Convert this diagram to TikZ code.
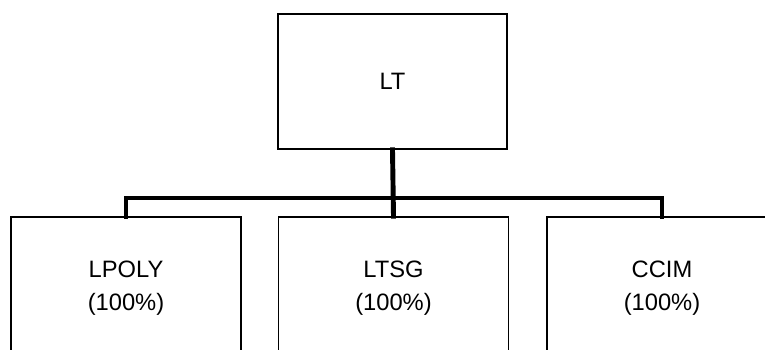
\documentclass[tikz,border=0pt]{standalone}
\usepackage{fontspec}
\setmainfont{Liberation Sans}
\usepackage{tikz}

\tikzset{
  entity/.style={draw, line width=0.9pt, align=center, inner sep=0pt,
    minimum width=4.6cm, font=\fontsize{13.5}{19}\selectfont},
  link/.style={line width=2.8pt, line cap=rect}
}

\begin{document}
\begin{tikzpicture}[x=0.02cm, y=-0.02cm]
    % ── Cadre de l'image ────────────────────────────────────────────────────
    \useasboundingbox (0,0) rectangle (765,349);
    \clip (0,0) rectangle (765,349);
    % ── Société mère ────────────────────────────────────────────────────────
    \node[entity, minimum width=4.58cm, minimum height=2.7cm] (lt) at (392.5,81.5) {LT};
    % ── Filiales (coupées en bas et à droite) ───────────────────────────────
    \node[entity, minimum height=2.84cm] (lpoly) at (126,288) {LPOLY\\(100\%)};
    \node[entity, minimum height=2.84cm] (ltsg) at (393.5,288) {LTSG\\(100\%)};
    \node[entity, minimum height=2.84cm] (ccim) at (662,288) {CCIM\\(100\%)};
    % ── Liaisons ────────────────────────────────────────────────────────────
    \coordinate (bus) at (393,198);
    \draw[link] (lt.south) -- (ltsg.north);
    \draw[link] (lpoly.north) |- (bus) -| (ccim.north);
\end{tikzpicture}
\end{document}
